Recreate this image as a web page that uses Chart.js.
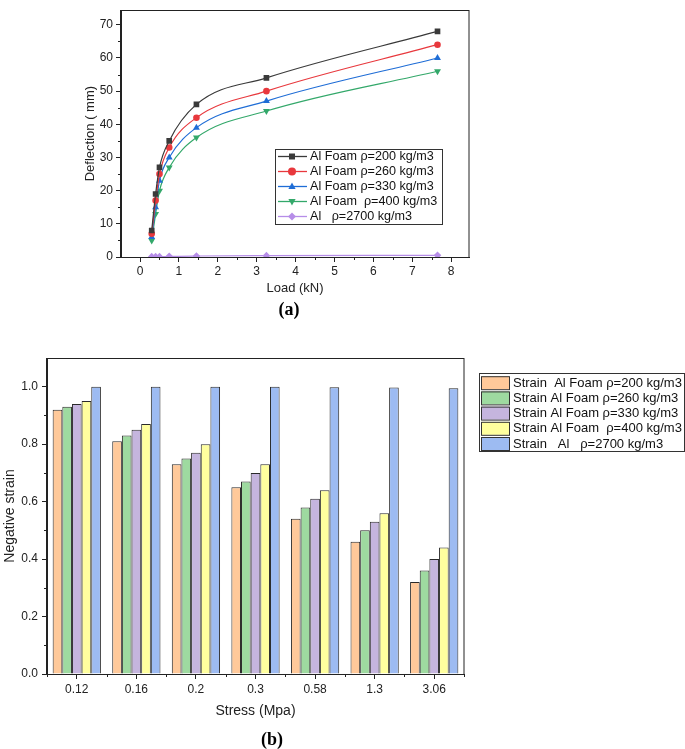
<!DOCTYPE html>
<html>
<head>
<meta charset="utf-8">
<script src="https://cdn.jsdelivr.net/npm/chart.js@4.4.0/dist/chart.umd.min.js"></script>
<style>
  body { margin: 0; background: #fff; width: 685px; height: 749px; position: relative; overflow: hidden; }
  #boxA { position: absolute; left: 0; top: 0; width: 685px; height: 300px; }
  #boxB { position: absolute; left: 0; top: 340px; width: 685px; height: 390px; }
  .cap { position: absolute; width: 60px; text-align: center; font: bold 18px "Liberation Serif", "Times New Roman", serif; color: #000; }
</style>
</head>
<body>
<div id="boxA"><canvas id="chartA" width="685" height="300"></canvas></div>
<div id="boxB"><canvas id="chartB" width="685" height="390"></canvas></div>
<div class="cap" style="left:259px; top:299px;">(a)</div>
<div class="cap" style="left:242px; top:729px;">(b)</div>
<script>
// ---- (a) deflection vs load ----
const loads = [0.3, 0.4, 0.5, 0.75, 1.45, 3.25, 7.65];
const defl200 = [8, 19, 27, 35, 46, 54, 68];
const defl260 = [7, 17, 25, 33, 42, 50, 64];
const defl330 = [6, 15, 23, 30, 39, 47, 60];
const defl400 = [5, 13, 20, 27, 36, 44, 56];
const defl2700 = [0.1, 0.1, 0.1, 0.2, 0.3, 0.4, 0.5];
const seriesA = ['Al Foam ρ=200 kg/m3', 'Al Foam ρ=260 kg/m3', 'Al Foam ρ=330 kg/m3', 'Al Foam  ρ=400 kg/m3', 'Al   ρ=2700 kg/m3'];

// ---- (b) negative strain vs stress ----
const stress = ['0.12', '0.16', '0.2', '0.3', '0.58', '1.3', '3.06'];
const strain200 = [0.92, 0.81, 0.73, 0.65, 0.54, 0.46, 0.32];
const strain260 = [0.93, 0.83, 0.75, 0.67, 0.58, 0.50, 0.36];
const strain330 = [0.94, 0.85, 0.77, 0.70, 0.61, 0.53, 0.40];
const strain400 = [0.95, 0.87, 0.80, 0.73, 0.64, 0.56, 0.44];
const strain2700 = [1.0, 1.0, 1.0, 1.0, 0.998, 0.997, 0.995];
const seriesB = ['Strain  Al Foam ρ=200 kg/m3', 'Strain Al Foam ρ=260 kg/m3', 'Strain Al Foam ρ=330 kg/m3', 'Strain Al Foam  ρ=400 kg/m3', 'Strain   Al   ρ=2700 kg/m3'];

Chart.defaults.font.family = 'Arial, "Liberation Sans", sans-serif';
Chart.defaults.color = '#222';

// marcador para la leyenda
function drawMarker(ctx, style, rot, r, x, y, color) {
  ctx.save();
  ctx.translate(x, y);
  ctx.rotate(rot * Math.PI / 180);
  ctx.fillStyle = color;
  ctx.beginPath();
  if (style === 'circle') ctx.arc(0, 0, r, 0, Math.PI * 2);
  else if (style === 'rect') ctx.rect(-r * 0.75, -r * 0.75, r * 1.5, r * 1.5);
  else if (style === 'triangle') { ctx.moveTo(0, -r); ctx.lineTo(r * 0.9, r * 0.6); ctx.lineTo(-r * 0.9, r * 0.6); ctx.closePath(); }
  else { ctx.moveTo(0, -r); ctx.lineTo(r, 0); ctx.lineTo(0, r); ctx.lineTo(-r, 0); ctx.closePath(); }
  ctx.fill();
  ctx.restore();
}

// marco, ticks menores y leyenda en caja
const extras = {
  id: 'extras',
  afterDatasetsDraw(chart, args, o) {
    const ctx = chart.ctx;
    const a = chart.chartArea;
    ctx.save();
    ctx.strokeStyle = '#222';
    ctx.lineWidth = 1;
    ctx.strokeRect(Math.round(a.left) - 0.5, Math.round(a.top) + 0.5, Math.round(a.right - a.left) + 0.5, Math.round(a.bottom - a.top));

    // ticks menores
    ['x', 'y'].forEach(id => {
      const s = chart.scales[id];
      let pts = [];
      if (s.type === 'category') {
        for (let i = 0; i <= s.ticks.length; i++) pts.push(s.getPixelForValue(i - 0.5));
      } else {
        const t = s.ticks.map(k => k.value);
        const step = t[1] - t[0];
        for (let i = -1; i < t.length; i++) {
          const v = t[0] + step * (i + 0.5);
          if (v > s.min && v < s.max) pts.push(s.getPixelForValue(v));
        }
      }
      ctx.beginPath();
      pts.forEach(p => {
        if (id === 'x') { ctx.moveTo(Math.round(p) + 0.5, a.bottom); ctx.lineTo(Math.round(p) + 0.5, a.bottom + 3); }
        else { ctx.moveTo(a.left, Math.round(p) + 0.5); ctx.lineTo(a.left - 3, Math.round(p) + 0.5); }
      });
      ctx.stroke();
    });

    // leyenda
    const L = o.box;
    ctx.fillStyle = '#fff';
    ctx.fillRect(L.x, L.y, L.w, L.h);
    ctx.strokeStyle = '#333';
    ctx.strokeRect(L.x + 0.5, L.y + 0.5, L.w, L.h);
    ctx.font = L.font + ' Arial, "Liberation Sans", sans-serif';
    ctx.textBaseline = 'middle';
    chart.data.datasets.forEach((ds, i) => {
      const cy = L.y + L.first + i * L.rowH;
      if (L.kind === 'line') {
        ctx.strokeStyle = ds.borderColor;
        ctx.lineWidth = 1.3;
        ctx.beginPath();
        ctx.moveTo(L.x + 3, cy);
        ctx.lineTo(L.x + 32, cy);
        ctx.stroke();
        drawMarker(ctx, ds.pointStyle, ds.pointRotation || 0, 4, L.x + 17, cy, ds.borderColor);
      } else {
        ctx.fillStyle = ds.backgroundColor;
        ctx.fillRect(L.x + 2, cy - 6.5, 28, 13);
        ctx.strokeStyle = '#333';
        ctx.lineWidth = 1;
        ctx.strokeRect(L.x + 2.5, cy - 6, 28, 13);
      }
      ctx.fillStyle = '#111';
      ctx.fillText(ds.label, L.x + L.textX, cy + 0.5);
    });
    ctx.restore();
  }
};

const axisGrid = { drawOnChartArea: false, tickLength: 5, color: '#222' };

// ---- grafico (a) ----
const colorsA = ['#3a3a3a', '#e8383d', '#1f6dd6', '#33a86a', '#b68de8'];
const stylesA = [['rect', 0, 4], ['circle', 0, 3.3], ['triangle', 0, 4], ['triangle', 180, 4], ['rectRot', 0, 3.8]];
const valuesA = [defl200, defl260, defl330, defl400, defl2700];

new Chart(document.getElementById('chartA'), {
  type: 'line',
  data: {
    datasets: valuesA.map((vals, i) => ({
      label: seriesA[i],
      data: loads.map((x, j) => ({ x: x, y: vals[j] })),
      borderColor: colorsA[i],
      backgroundColor: colorsA[i],
      borderWidth: 1.2,
      cubicInterpolationMode: 'monotone',
      pointStyle: stylesA[i][0],
      pointRotation: stylesA[i][1],
      pointRadius: stylesA[i][2],
      pointBorderWidth: 0,
      pointBackgroundColor: colorsA[i]
    }))
  },
  options: {
    responsive: false,
    animation: false,
    layout: { padding: { left: 80, right: 216, top: 2, bottom: 0 } },
    plugins: {
      legend: { display: false },
      tooltip: { enabled: false },
      extras: { box: { kind: 'line', font: '12.6px', x: 275, y: 149, w: 167, h: 75, first: 7.5, rowH: 15, textX: 35 } }
    },
    scales: {
      x: {
        type: 'linear', min: -0.49, max: 8.46,
        ticks: { stepSize: 1, includeBounds: false, padding: 2, font: { size: 12 } },
        grid: axisGrid,
        border: { color: '#222' },
        title: { display: true, text: 'Load (kN)', font: { size: 13 }, padding: { top: 0, bottom: 4 } },
        afterFit: s => { s.height = 43; }
      },
      y: {
        min: 0, max: 74.4,
        ticks: { stepSize: 10, includeBounds: false, padding: 3, font: { size: 12 } },
        grid: axisGrid,
        border: { color: '#222' },
        title: { display: true, text: 'Deflection ( mm)', font: { size: 13 }, padding: { top: 3, bottom: 0 } },
        afterFit: s => { s.width = 41; }
      }
    }
  },
  plugins: [extras]
});

// ---- grafico (b) ----
const colorsB = ['#ffc99a', '#9edaa0', '#c5b5de', '#ffff9e', '#9dbbf2'];
const valuesB = [strain200, strain260, strain330, strain400, strain2700];

new Chart(document.getElementById('chartB'), {
  type: 'bar',
  data: {
    labels: stress,
    datasets: valuesB.map((vals, i) => ({
      label: seriesB[i],
      data: vals,
      backgroundColor: colorsB[i],
      borderColor: '#2a2a2a',
      borderWidth: 1,
      barPercentage: 1,
      categoryPercentage: 0.81
    }))
  },
  options: {
    responsive: false,
    animation: false,
    layout: { padding: { left: 0, right: 221, top: 18, bottom: 0 } },
    plugins: {
      legend: { display: false },
      tooltip: { enabled: false },
      extras: { box: { kind: 'box', font: '13px', x: 479, y: 33, w: 205, h: 78, first: 9.7, rowH: 15.2, textX: 34 } }
    },
    scales: {
      x: {
        ticks: { padding: 3, font: { size: 12 } },
        grid: Object.assign({ offset: false }, axisGrid),
        border: { color: '#222' },
        title: { display: true, text: 'Stress (Mpa)', font: { size: 14 }, padding: { top: 0, bottom: 10 } },
        afterFit: s => { s.height = 56; }
      },
      y: {
        min: 0, max: 1.1,
        ticks: { stepSize: 0.2, includeBounds: false, padding: 4, font: { size: 12 }, callback: v => v.toFixed(1) },
        grid: axisGrid,
        border: { color: '#222' },
        title: { display: true, text: 'Negative strain', font: { size: 14 }, padding: { top: 2, bottom: 0 } },
        afterFit: s => { s.width = 47; }
      }
    }
  },
  plugins: [extras]
});
</script>
</body>
</html>
